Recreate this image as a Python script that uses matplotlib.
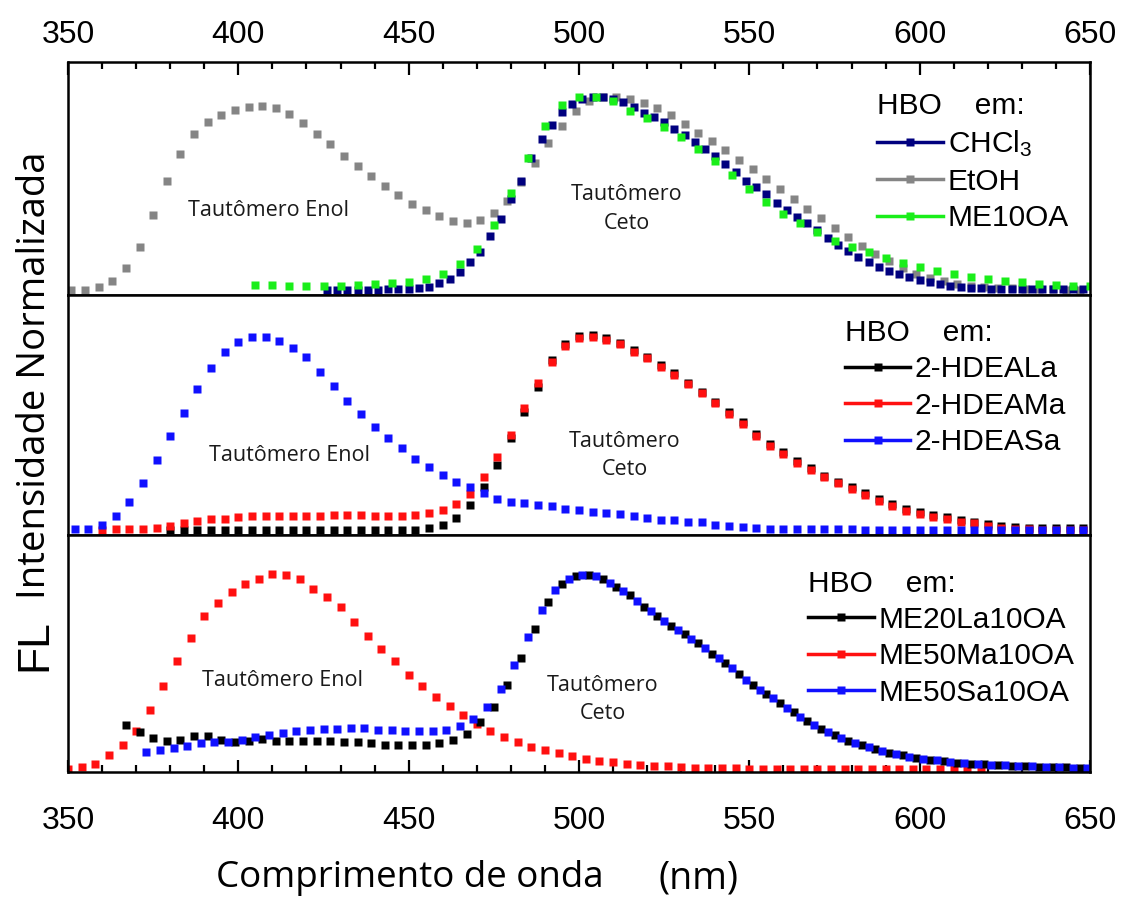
import numpy as np
import matplotlib
matplotlib.use("Agg")
import matplotlib.pyplot as plt
from matplotlib.lines import Line2D

plt.rcParams["font.family"] = ["Liberation Sans", "DejaVu Sans"]
plt.rcParams["mathtext.fontset"] = "custom"
plt.rcParams["mathtext.rm"] = "Liberation Sans"
plt.rcParams["mathtext.it"] = "Liberation Sans"

# ---------------- data (normalized FL intensity) ----------------
# top panel: HBO in CHCl3 / EtOH / ME10OA
x_etoh = np.arange(351, 648, 4)
y_etoh = [0.008, 0.008, 0.022, 0.054, 0.118, 0.228, 0.388, 0.562, 0.700, 0.804,
          0.865, 0.902, 0.927, 0.939, 0.943, 0.933, 0.906, 0.860, 0.800, 0.750,
          0.690, 0.637, 0.586, 0.535, 0.490, 0.447, 0.413, 0.383, 0.357, 0.350,
          0.365, 0.400, 0.460, 0.560, 0.655, 0.755, 0.845, 0.920, 0.970, 0.993,
          0.990, 0.983, 0.960, 0.933, 0.900, 0.855, 0.810, 0.767, 0.722, 0.670,
          0.622, 0.573, 0.520, 0.472, 0.422, 0.372, 0.323, 0.275, 0.230, 0.188,
          0.152, 0.120, 0.090, 0.067, 0.050, 0.037, 0.027, 0.021, 0.017, 0.014,
          0.012, 0.010, 0.009, 0.008, 0.008]

x_chcl3 = np.arange(426, 649, 3)
y_chcl3 = [0.005, 0.005, 0.006, 0.006, 0.007, 0.008, 0.009, 0.010, 0.012, 0.015,
           0.022, 0.040, 0.062, 0.098, 0.147, 0.202, 0.282, 0.371, 0.470, 0.565,
           0.680, 0.776, 0.850, 0.915, 0.956, 0.980, 0.990, 0.992, 0.982, 0.965,
           0.940, 0.912, 0.889, 0.862, 0.830, 0.797, 0.764, 0.725, 0.690, 0.650,
           0.607, 0.565, 0.530, 0.494, 0.450, 0.413, 0.379, 0.346, 0.310, 0.273,
           0.238, 0.207, 0.177, 0.149, 0.126, 0.105, 0.086, 0.071, 0.059, 0.047,
           0.037, 0.029, 0.022, 0.018, 0.015, 0.013, 0.012, 0.011, 0.010, 0.010,
           0.010, 0.010, 0.010, 0.010, 0.010]

x_me10oa = np.arange(405, 651, 5)
y_me10oa = [0.034, 0.030, 0.027, 0.025, 0.025, 0.025, 0.030, 0.035, 0.040, 0.045,
            0.062, 0.089, 0.138, 0.216, 0.337, 0.500, 0.680, 0.843, 0.950, 0.990,
            0.990, 0.970, 0.922, 0.885, 0.838, 0.787, 0.725, 0.666, 0.594, 0.523,
            0.455, 0.396, 0.346, 0.304, 0.255, 0.225, 0.200, 0.169, 0.143, 0.123,
            0.101, 0.088, 0.071, 0.062, 0.050, 0.046, 0.039, 0.034, 0.029, 0.029]

# middle panel: HBO in 2-HDEALa / 2-HDEAMa / 2-HDEASa
x_hdeala = np.arange(380, 649, 4)
y_hdeala = [0.008] * 19 + [
    0.020, 0.037, 0.073, 0.136, 0.230, 0.341, 0.477, 0.613, 0.740, 0.877,
    0.958, 1.000, 1.005, 0.990, 0.966, 0.930, 0.895, 0.852, 0.810, 0.762,
    0.716, 0.665, 0.610, 0.559, 0.500, 0.449, 0.409, 0.362, 0.324, 0.287,
    0.256, 0.227, 0.199, 0.169, 0.140, 0.115, 0.099, 0.087, 0.074, 0.060,
    0.052, 0.040, 0.031, 0.026, 0.021, 0.019, 0.018, 0.018, 0.018]

x_hdeama = np.arange(360, 649, 4)
y_hdeama = [0.009, 0.012, 0.012, 0.017, 0.020, 0.029, 0.043, 0.056, 0.065, 0.068,
            0.077, 0.080, 0.080, 0.082, 0.082, 0.082, 0.082, 0.085, 0.085, 0.085,
            0.082, 0.082, 0.082, 0.085, 0.097, 0.111, 0.141, 0.191, 0.278, 0.383,
            0.494, 0.630, 0.758, 0.869, 0.949, 0.991, 0.997, 0.980, 0.957, 0.920,
            0.886, 0.843, 0.801, 0.753, 0.707, 0.656, 0.601, 0.550, 0.491, 0.440,
            0.400, 0.353, 0.315, 0.278, 0.247, 0.218, 0.190, 0.160, 0.131, 0.106,
            0.090, 0.078, 0.065, 0.051, 0.043, 0.031, 0.022, 0.017, 0.012, 0.010,
            0.009, 0.009, 0.009]

x_hdeasa = np.arange(352, 649, 4)
y_hdeasa = [0.017, 0.017, 0.034, 0.080, 0.153, 0.247, 0.366, 0.489, 0.608, 0.727,
            0.838, 0.917, 0.968, 0.993, 0.997, 0.976, 0.940, 0.894, 0.818, 0.744,
            0.670, 0.601, 0.537, 0.480, 0.426, 0.370, 0.329, 0.290, 0.256, 0.227,
            0.196, 0.170, 0.153, 0.148, 0.136, 0.131, 0.119, 0.111, 0.102, 0.097,
            0.090, 0.080, 0.072, 0.063, 0.060, 0.051, 0.048, 0.037, 0.031, 0.026,
            0.020, 0.017, 0.016, 0.014, 0.014, 0.013, 0.012, 0.012, 0.011, 0.011,
            0.010, 0.010, 0.009, 0.009, 0.009, 0.008, 0.008, 0.008, 0.008, 0.008,
            0.008, 0.008, 0.008, 0.008, 0.008]

# bottom panel: HBO in ME20La10OA / ME50Ma10OA / ME50Sa10OA
x_me20la = np.arange(367, 648, 4)
y_me20la = [0.233, 0.194, 0.165, 0.148, 0.156, 0.173, 0.173, 0.156, 0.145, 0.151,
            0.162, 0.151, 0.148, 0.148, 0.148, 0.148, 0.143, 0.143, 0.139, 0.131,
            0.131, 0.128, 0.128, 0.139, 0.156, 0.187, 0.245, 0.323, 0.434, 0.573,
            0.723, 0.859, 0.950, 0.992, 0.995, 0.975, 0.935, 0.893, 0.835, 0.790,
            0.738, 0.695, 0.650, 0.595, 0.548, 0.490, 0.435, 0.390, 0.343, 0.295,
            0.250, 0.210, 0.178, 0.150, 0.127, 0.107, 0.090, 0.076, 0.064, 0.054,
            0.046, 0.039, 0.034, 0.030, 0.027, 0.024, 0.021, 0.019, 0.017, 0.015,
            0.014]

x_me50ma = np.arange(350, 619, 4)
y_me50ma = [0.007, 0.015, 0.034, 0.077, 0.128, 0.199, 0.310, 0.429, 0.556, 0.675,
            0.786, 0.854, 0.908, 0.952, 0.978, 1.000, 0.995, 0.976, 0.927, 0.883,
            0.832, 0.755, 0.684, 0.621, 0.560, 0.488, 0.429, 0.374, 0.327, 0.281,
            0.236, 0.199, 0.170, 0.145, 0.119, 0.105, 0.088, 0.071, 0.058, 0.049,
            0.041, 0.032, 0.029, 0.024, 0.020, 0.017, 0.012, 0.012, 0.010, 0.010,
            0.008, 0.008, 0.007, 0.007, 0.007, 0.007, 0.006, 0.006, 0.006, 0.006,
            0.006, 0.006, 0.006, 0.006, 0.006, 0.006, 0.006, 0.006]

x_me50sa = np.arange(373, 650, 4)
y_me50sa = [0.094, 0.102, 0.114, 0.122, 0.139, 0.143, 0.145, 0.153, 0.170, 0.182,
            0.190, 0.199, 0.207, 0.211, 0.213, 0.216, 0.216, 0.207, 0.207, 0.202,
            0.202, 0.202, 0.207, 0.224, 0.262, 0.323, 0.417, 0.539, 0.680, 0.820,
            0.922, 0.975, 0.997, 0.990, 0.958, 0.915, 0.862, 0.812, 0.762, 0.716,
            0.672, 0.622, 0.572, 0.520, 0.462, 0.412, 0.367, 0.320, 0.272, 0.230,
            0.194, 0.164, 0.138, 0.117, 0.098, 0.083, 0.070, 0.059, 0.050, 0.042,
            0.036, 0.032, 0.028, 0.025, 0.022, 0.020, 0.018, 0.016, 0.014, 0.013]

top_series = [(x_etoh, y_etoh, "#858585", "EtOH"),
              (x_chcl3, y_chcl3, "#00007f", "CHCl$_3$"),
              (x_me10oa, y_me10oa, "#1aee1a", "ME10OA")]
top_legend = ["CHCl$_3$", "EtOH", "ME10OA"]
mid_series = [(x_hdeala, y_hdeala, "black", "2-HDEALa"),
              (x_hdeama, y_hdeama, "#ff1010", "2-HDEAMa"),
              (x_hdeasa, y_hdeasa, "#1010ff", "2-HDEASa")]
mid_legend = ["2-HDEALa", "2-HDEAMa", "2-HDEASa"]
bot_series = [(x_me50ma, y_me50ma, "#ff1010", "ME50Ma10OA"),
              (x_me20la, y_me20la, "black", "ME20La10OA"),
              (x_me50sa, y_me50sa, "#1010ff", "ME50Sa10OA")]
bot_legend = ["ME20La10OA", "ME50Ma10OA", "ME50Sa10OA"]

# ---------------- figure ----------------
fig, axes = plt.subplots(3, 1, figsize=(11.22, 8.99), dpi=100, sharex=True,
                         gridspec_kw={"height_ratios": [233, 240, 237]})
fig.subplots_adjust(left=0.0606, right=0.9715, top=0.931, bottom=0.141, hspace=0)

ylims = [(-0.02, 1.17), (-0.017, 1.209), (-0.01, 1.2)]
legend_pos = [(0.792, 0.87), (0.76, 0.9), (0.724, 0.855)]
enol_pos = [(409, 0.41), (415, 0.39), (413, 0.46)]
ceto_pos = [(514, 0.42), (513.5, 0.39), (507, 0.36)]

for ax, series, order, ylim, lpos, epos, cpos in zip(
        axes, [top_series, mid_series, bot_series],
        [top_legend, mid_legend, bot_legend], ylims, legend_pos, enol_pos, ceto_pos):
    handles = {}
    for x, y, c, lab in series:
        ax.plot(x, y, linestyle="none", marker="s", ms=5.5, mec="none", color=c)
        handles[lab] = Line2D([], [], color=c, lw=2.5, marker="s", ms=5.5, mec="none")
    ax.set_xlim(350, 650)
    ax.set_ylim(*ylim)
    ax.set_yticks([])
    for s in ax.spines.values():
        s.set_linewidth(1.8)
    ax.legend([handles[k] for k in order], order, title="HBO    em:",
              loc="upper left", bbox_to_anchor=lpos, frameon=False,
              fontsize=21.5, title_fontsize=21.5, borderpad=0, borderaxespad=0,
              handlelength=2.2, handletextpad=0.15, labelspacing=0.28,
              alignment="left")
    ax.text(epos[0], epos[1], "Tautômero Enol", family="Open Sans", fontsize=15.5,
            color="#1a1a1a", ha="center", va="center")
    ax.text(cpos[0], cpos[1], "Tautômero\nCeto", family="Open Sans", fontsize=15.5,
            color="#1a1a1a", ha="center", va="center", linespacing=1.45)

# ticks: top of first panel and bottom of last panel only
for ax in axes:
    ax.tick_params(axis="x", which="both", bottom=False, top=False,
                   labelbottom=False, labeltop=False)
axes[0].xaxis.set_tick_params(which="both", top=True, labeltop=True, direction="in")
axes[2].xaxis.set_tick_params(which="both", bottom=True, labelbottom=True, direction="in")
axes[2].set_xticks([350, 400, 450, 500, 550, 600, 650])
axes[2].set_xticks(np.arange(350, 651, 10), minor=True)
axes[0].tick_params(axis="x", which="major", length=9, width=1.6, labelsize=23, pad=9)
axes[0].tick_params(axis="x", which="minor", length=5, width=1.6)
axes[2].tick_params(axis="x", which="major", length=9, width=1.6, labelsize=23, pad=24)
axes[2].tick_params(axis="x", which="minor", length=5, width=1.6)

# axis titles
fig.text(35 / 1122, 1 - 375 / 899, "Intensidade Normalizada", family="Open Sans",
         fontsize=27.5, rotation=90, ha="center", va="center")
fig.text(35 / 1122, 1 - 645 / 899, "FL", fontsize=32, rotation=90,
         ha="center", va="center")
fig.text(410 / 1122, 1 - 878 / 899, "Comprimento de onda", family="Open Sans",
         fontsize=26.5, ha="center", va="center")
fig.text(698 / 1122, 1 - 878 / 899, "(nm)", family="Open Sans",
         fontsize=27, ha="center", va="center")

plt.savefig("out.png", dpi=100)
